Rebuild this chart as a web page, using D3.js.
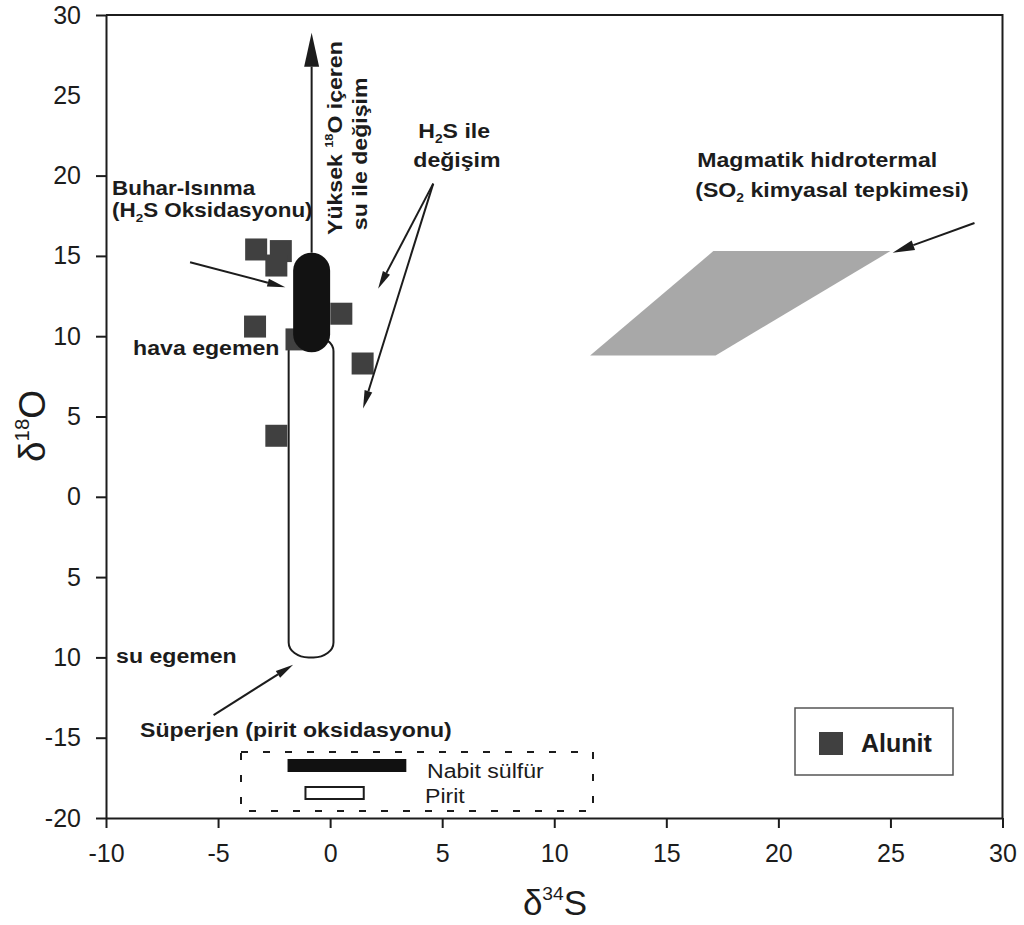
<!DOCTYPE html>
<html>
<head>
<meta charset="utf-8">
<script src="https://cdn.jsdelivr.net/npm/d3@7"></script>
<style>
  body { margin: 0; background: #fff; }
  svg { display: block; font-family: "Liberation Sans", Arial, Helvetica, sans-serif; }
</style>
</head>
<body>
<svg id="chart" width="1024" height="925"></svg>
<script>
// Alunite samples: δ34S and δ18O (‰)
const alunitS = [-3.3, -2.2, -2.4, -3.35, -1.5, 0.5, 1.45, -2.4];
const alunitO = [15.4, 15.3, 14.4, 10.6, 9.8, 11.4, 8.3, 3.8];

// Genetic fields
const steamHeatedS = [-1.65, 0.0];
const steamHeatedO = [9.0, 15.2];
const supergeneS = [-1.85, 0.15];
const supergeneO = [-10.0, 10.0];
const magmaticS = [11.6, 17.2, 25.0, 17.1];
const magmaticO = [8.8, 8.8, 15.3, 15.3];

// δ34S ranges of native sulfur and pyrite
const nativeSulfurRange = [-1.9, 3.4];
const pyriteRange = [-1.1, 1.5];

// Axis ticks
const xTicks = [-10, -5, 0, 5, 10, 15, 20, 25, 30];
const yTicks = [30, 25, 20, 15, 10, 5, 0, -5, -10, -15, -20];
const yTickLabels = ["30", "25", "20", "15", "10", "5", "0", "5", "10", "-15", "-20"];

const svg = d3.select("#chart");
const INK = "#1c1c1c";

const x = d3.scaleLinear().domain([-10, 30]).range([106, 1002.5]);
const y = d3.scaleLinear().domain([-20, 30]).range([818, 15]);

// ---------- text helper: segments with sub/superscripts ----------
function richText(parent, parts, opt) {
  const fs = opt.size;
  const sx = opt.stretch || 1;
  const t = parent.append("text")
    .attr("transform", `translate(${opt.x},${opt.y}) rotate(${opt.rotate || 0}) scale(${sx},1)`)
    .attr("font-size", fs)
    .attr("font-weight", opt.bold ? "bold" : "normal")
    .attr("text-anchor", opt.anchor || "start")
    .attr("fill", opt.fill || INK);
  let shift = 0;
  parts.forEach(p => {
    if (typeof p === "string") {
      t.append("tspan").attr("dy", -shift).text(p);
      shift = 0;
    } else if (p.sub) {
      const d = 0.22 * fs;
      t.append("tspan").attr("dy", d - shift).attr("font-size", 0.6 * fs).text(p.sub);
      shift = d;
    } else if (p.sup) {
      const d = -0.42 * fs;
      t.append("tspan").attr("dy", d - shift).attr("font-size", 0.55 * fs).text(p.sup);
      shift = d;
    }
  });
  return t;
}

// ---------- arrow helper (data coordinates) ----------
function arrow(s0, o0, s1, o1, len, wid) {
  const x0 = x(s0), y0 = y(o0), x1 = x(s1), y1 = y(o1);
  const a = Math.atan2(y1 - y0, x1 - x0);
  const bx = x1 - len * Math.cos(a), by = y1 - len * Math.sin(a);
  const px = -Math.sin(a) * wid / 2, py = Math.cos(a) * wid / 2;
  const g = svg.append("g");
  g.append("line")
    .attr("x1", x0).attr("y1", y0).attr("x2", bx).attr("y2", by)
    .attr("stroke", INK).attr("stroke-width", 2);
  g.append("polygon")
    .attr("points", [[x1, y1], [bx + px, by + py], [bx - px, by - py]].map(p => p.join(",")).join(" "))
    .attr("fill", INK);
}

// ---------- magmatic-hydrothermal field ----------
svg.append("polygon")
  .attr("points", magmaticS.map((s, i) => [x(s), y(magmaticO[i])].join(",")).join(" "))
  .attr("fill", "#a8a8a8");

// ---------- supergene field (open capsule) ----------
svg.append("rect")
  .attr("x", x(supergeneS[0]))
  .attr("y", y(supergeneO[1]))
  .attr("width", x(supergeneS[1]) - x(supergeneS[0]))
  .attr("height", y(supergeneO[0]) - y(supergeneO[1]))
  .attr("rx", 20).attr("ry", 15)
  .attr("fill", "#fff").attr("stroke", INK).attr("stroke-width", 2);

// ---------- alunite samples ----------
const sq = 22;
svg.append("g").selectAll("rect")
  .data(alunitS)
  .join("rect")
  .attr("x", (d) => x(d) - sq / 2)
  .attr("y", (d, i) => y(alunitO[i]) - sq / 2)
  .attr("width", sq).attr("height", sq)
  .attr("fill", "#404040");

// ---------- steam-heated field (filled capsule) ----------
svg.append("rect")
  .attr("x", x(steamHeatedS[0]))
  .attr("y", y(steamHeatedO[1]))
  .attr("width", x(steamHeatedS[1]) - x(steamHeatedS[0]))
  .attr("height", y(steamHeatedO[0]) - y(steamHeatedO[1]))
  .attr("rx", 18.5).attr("ry", 18)
  .attr("fill", "#121212");

// ---------- arrows ----------
const steamMid = (steamHeatedS[0] + steamHeatedS[1]) / 2;
arrow(steamMid, steamHeatedO[1], steamMid, 28.9, 34, 15);   // high-18O water exchange
arrow(-6.25, 14.6, -2.0, 13.05, 18, 8);                      // steam-heated
arrow(4.6, 19.5, 2.14, 12.95, 18, 8);                        // H2S exchange
arrow(4.6, 19.5, 1.47, 5.5, 18, 8);
arrow(-5.2, -13.6, -1.65, -10.45, 18, 8);                    // supergene
arrow(28.75, 17.05, 25.1, 15.2, 22, 10);                     // magmatic hydrothermal

// ---------- axes ----------
const axisStyle = g => {
  g.select(".domain").attr("stroke", INK).attr("stroke-width", 2);
  g.selectAll(".tick line").attr("stroke", INK).attr("stroke-width", 2);
  g.selectAll(".tick text").attr("fill", INK).attr("font-size", 25)
    .attr("font-family", "'Liberation Sans', Arial, sans-serif");
};

svg.append("g")
  .attr("transform", `translate(0,${y(-20)})`)
  .call(d3.axisBottom(x).tickValues(xTicks).tickSize(10).tickSizeOuter(0).tickPadding(16)
    .tickFormat(d => String(d)))
  .call(axisStyle);

const yAxisG = svg.append("g")
  .attr("transform", `translate(${x(-10)},0)`)
  .call(d3.axisLeft(y).tickValues(yTicks).tickSize(10).tickSizeOuter(0).tickPadding(15)
    .tickFormat((d, i) => yTickLabels[i]))
  .call(axisStyle);
yAxisG.selectAll(".tick").filter(d => d === 25).select("line").remove();

// frame: top and right edges
svg.append("path")
  .attr("d", `M${x(-10)},${y(30)}H${x(30)}V${y(-20)}`)
  .attr("fill", "none").attr("stroke", INK).attr("stroke-width", 2);

// axis titles
richText(svg, ["δ", { sup: "34" }, "S"], { x: 555, y: 915, size: 35, anchor: "middle" });
richText(svg, ["δ", { sup: "18" }, "O"], { x: 45, y: 426, size: 37, anchor: "middle", rotate: -90 });

// ---------- annotations ----------
const B = { size: 21, bold: true, stretch: 1.1 };
const Bs = { size: 19.5, bold: true, stretch: 1.15 };
richText(svg, ["Buhar-Isınma"], { ...Bs, x: x(-9.73), y: y(18.8) });
richText(svg, ["(H", { sub: "2" }, "S Oksidasyonu)"], { ...Bs, x: x(-9.73), y: y(17.4) });
richText(svg, ["hava egemen"], { ...B, x: x(-8.79), y: y(8.83) });
richText(svg, ["su egemen"], { ...B, x: x(-9.55), y: y(-10.35) });
richText(svg, ["Süperjen (pirit oksidasyonu)"], { ...B, x: x(-8.48), y: y(-14.96) });
richText(svg, ["H", { sub: "2" }, "S ile"], { ...B, x: x(3.93), y: y(22.34) });
richText(svg, ["değişim"], { ...B, x: x(3.71), y: y(20.54) });
richText(svg, ["Magmatik hidrotermal"], { ...B, x: x(16.38), y: y(20.54) });
richText(svg, ["(SO", { sub: "2" }, " kimyasal tepkimesi)"], { ...B, x: x(16.29), y: y(18.67) });
richText(svg, ["Yüksek ", { sup: "18" }, "O içeren"], { ...B, x: x(0.52), y: y(16.3), rotate: -90 });
richText(svg, ["su ile değişim"], { ...B, x: x(1.65), y: y(16.6), rotate: -90 });

// ---------- sulfide legend (dashed box) ----------
svg.append("rect")
  .attr("x", 241).attr("y", 752).attr("width", 352).attr("height", 59)
  .attr("fill", "none").attr("stroke", INK).attr("stroke-width", 2)
  .attr("stroke-dasharray", "7 15");
svg.append("rect")
  .attr("x", x(nativeSulfurRange[0])).attr("y", 759)
  .attr("width", x(nativeSulfurRange[1]) - x(nativeSulfurRange[0])).attr("height", 13)
  .attr("fill", "#111");
svg.append("rect")
  .attr("x", x(pyriteRange[0])).attr("y", 787)
  .attr("width", x(pyriteRange[1]) - x(pyriteRange[0])).attr("height", 12)
  .attr("fill", "#fff").attr("stroke", INK).attr("stroke-width", 2);
richText(svg, ["Nabit sülfür"], { x: 427, y: 778, size: 21, stretch: 1.1 });
richText(svg, ["Pirit"], { x: 425, y: 803, size: 21, stretch: 1.1 });

// ---------- alunite legend ----------
svg.append("rect")
  .attr("x", 795).attr("y", 708).attr("width", 158).attr("height", 67)
  .attr("fill", "#fff").attr("stroke", "#555").attr("stroke-width", 1.5);
svg.append("rect")
  .attr("x", 819).attr("y", 732).attr("width", 24).attr("height", 23)
  .attr("fill", "#404040");
richText(svg, ["Alunit"], { x: 861, y: 752, size: 25, bold: true });
</script>
</body>
</html>
